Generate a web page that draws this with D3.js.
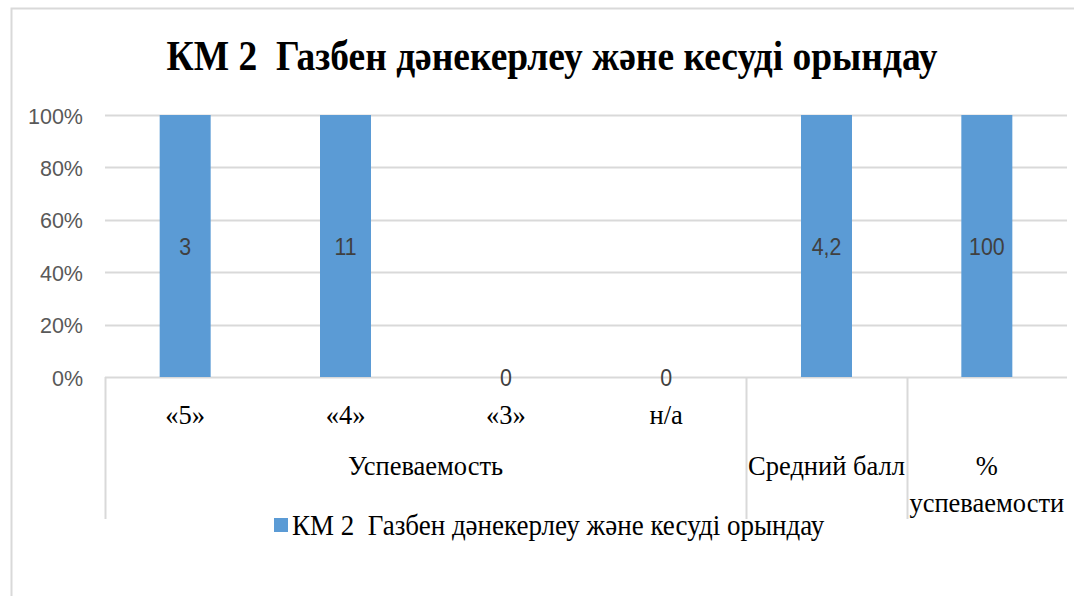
<!DOCTYPE html>
<html>
<head>
<meta charset="utf-8">
<script src="https://cdn.jsdelivr.net/npm/d3@7"></script>
<style>
  html, body { margin: 0; padding: 0; background: #fff; }
  svg { display: block; }
  .serif { font-family: "Liberation Serif", "DejaVu Serif", serif; white-space: pre; }
  .sans { font-family: "Liberation Sans", Arial, sans-serif; }
</style>
</head>
<body>
<svg id="chart" width="1074" height="596"></svg>
<script>
const title = "КМ 2  Газбен дәнекерлеу және кесуді орындау";
const seriesName = "КМ 2  Газбен дәнекерлеу және кесуді орындау";
const categories = ["«5»", "«4»", "«3»", "н/а", "Средний балл", "% успеваемости"];
const values = [3, 11, 0, 0, 4.2, 100];
const valueLabels = ["3", "11", "0", "0", "4,2", "100"];
const groupNames = ["Успеваемость", "", ""];
const groupSizes = [4, 1, 1];
const yTicks = [0, 0.2, 0.4, 0.6, 0.8, 1.0];

const svg = d3.select("#chart");
const M = { left: 105, right: 1067, top: 115, bottom: 377 };
const barColor = "#5b9bd5";
const gridColor = "#d9d9d9";

svg.append("rect")
  .attr("x", 11.5).attr("y", 8.5).attr("width", 1100).attr("height", 700)
  .attr("fill", "#fff").attr("stroke", "#d9d9d9").attr("stroke-width", 2);

svg.append("text")
  .attr("class", "serif")
  .attr("transform", "translate(552,70) scale(1,1.1)")
  .attr("text-anchor", "middle")
  .attr("font-weight", "bold")
  .attr("font-size", 37.5)
  .attr("fill", "#000")
  .text(title);

const x = d3.scaleBand().domain(categories).range([M.left, M.right]).paddingInner(0).paddingOuter(0);
const y = d3.scaleLinear().domain([0, 1]).range([M.bottom, M.top]);

// 100% stacked share of the single series in each category
const shares = values.map(v => v > 0 ? v / v : 0);

svg.append("g")
  .selectAll("line").data(yTicks).join("line")
  .attr("x1", M.left).attr("x2", M.right)
  .attr("y1", d => Math.round(y(d)) + 0.5).attr("y2", d => Math.round(y(d)) + 0.5)
  .attr("stroke", gridColor).attr("stroke-width", 2);

const yAxis = d3.axisLeft(y).tickValues(yTicks).tickFormat(d3.format(".0%")).tickSize(0).tickPadding(22);
const gy = svg.append("g").attr("transform", `translate(${M.left},0)`).call(yAxis);
gy.select(".domain").remove();
gy.attr("font-family", null).attr("font-size", null);
gy.selectAll("text")
  .attr("class", "sans")
  .attr("font-size", 21.5)
  .attr("dy", "0.38em")
  .attr("fill", "#595959");

const bw = 51;
svg.append("g")
  .selectAll("rect").data(categories).join("rect")
  .attr("x", (d) => x(d) + x.bandwidth() / 2 - bw / 2)
  .attr("width", bw)
  .attr("y", (d, i) => y(shares[i]))
  .attr("height", (d, i) => y(0) - y(shares[i]))
  .attr("fill", barColor);

svg.append("g")
  .selectAll("text").data(categories).join("text")
  .attr("class", "sans")
  .attr("transform", (d, i) => `translate(${x(d) + x.bandwidth() / 2},${(y(0) + y(shares[i])) / 2 + 9}) scale(0.95,1.08)`)
  .attr("text-anchor", "middle")
  .attr("font-size", 22.5)
  .attr("fill", "#404040")
  .text((d, i) => valueLabels[i]);

let start = 0;
const seps = [0];
groupSizes.forEach(s => { start += s; seps.push(start); });
const sepX = seps.slice(0, -1).map(i => x(categories[i]));
svg.append("g")
  .selectAll("line").data(sepX).join("line")
  .attr("x1", d => Math.round(d) + 0.5).attr("x2", d => Math.round(d) + 0.5)
  .attr("y1", M.bottom).attr("y2", 519)
  .attr("stroke", gridColor).attr("stroke-width", 2);

function serifText(px, py, txt, anchor, size) {
  return svg.append("text")
    .attr("class", "serif")
    .attr("transform", `translate(${px},${py})`)
    .attr("text-anchor", anchor || "middle")
    .attr("font-size", size || 26.5).attr("fill", "#000")
    .text(txt);
}

let idx = 0;
groupSizes.forEach((s, gi) => {
  const members = categories.slice(idx, idx + s);
  const gx0 = x(members[0]);
  const gx1 = x(members[members.length - 1]) + x.bandwidth();
  if (s > 1) {
    members.forEach(m => serifText(x(m) + x.bandwidth() / 2, 424, m));
    serifText((gx0 + gx1) / 2, 475, groupNames[gi]);
  } else {
    const label = members[0];
    const words = label.startsWith("%") ? ["%", label.slice(2)] : [label];
    words.forEach((w, wi) => serifText((gx0 + gx1) / 2, 475 + wi * 37, w));
  }
  idx += s;
});

svg.append("rect").attr("x", 274).attr("y", 518).attr("width", 14).attr("height", 14).attr("fill", barColor);
svg.append("text")
  .attr("class", "serif")
  .attr("transform", "translate(292,535) scale(1,1.1)")
  .attr("font-size", 27)
  .attr("fill", "#000")
  .text(seriesName);
</script>
</body>
</html>
